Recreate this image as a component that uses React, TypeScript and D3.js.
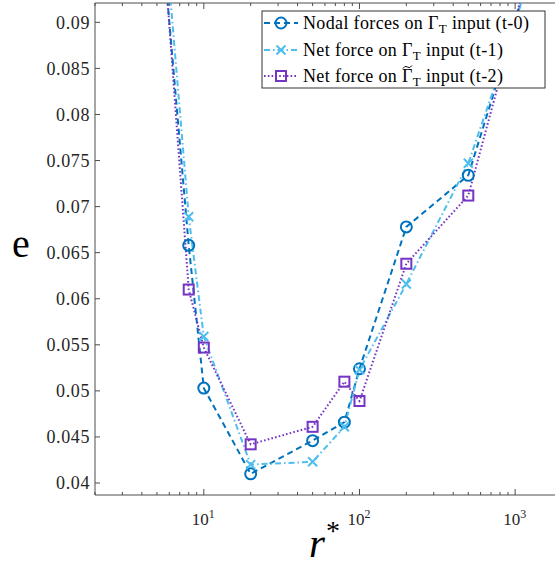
import React, { useLayoutEffect, useRef, useState } from "react";
import * as d3 from "d3";

const rValues = [5, 8, 10, 20, 50, 80, 100, 200, 500, 1000, 2000];
const nodalForces = [0.1055, 0.0658, 0.0503, 0.041, 0.0446, 0.0466, 0.0524, 0.0678, 0.0734, 0.0898, 0.111];
const netForce = [0.11, 0.0689, 0.0559, 0.042, 0.0423, 0.0461, 0.0523, 0.0616, 0.0747, 0.0895, 0.11];
const netForceTilde = [0.108, 0.061, 0.0547, 0.0442, 0.0461, 0.051, 0.0489, 0.0638, 0.0712, 0.09, 0.112];

const yTicks = [0.04, 0.045, 0.05, 0.055, 0.06, 0.065, 0.07, 0.075, 0.08, 0.085, 0.09];
const yTickLabels = ["0.04", "0.045", "0.05", "0.055", "0.06", "0.065", "0.07", "0.075", "0.08", "0.085", "0.09"];
const xMajorTicks = [10, 100, 1000];
const xMajorExp = ["1", "2", "3"];

const W = 555;
const H = 567;
const left = 95;
const top = 3;
const bottom = 495;
const rightPx = 562;

const FONT = '"Liberation Serif", "Times New Roman", Times, serif';
const AX = "#4d4d4d";
const TXT = "#262626";

const BLUE = "#0072BD";
const CYAN = "#4DBEEE";
const PURPLE = "#7434C4";

export default function App() {
  const x = d3.scaleLog().domain([2, 2000]).range([left, rightPx]);
  const y = d3.scaleLinear().domain([0.0387, 0.0921]).range([bottom, top]);
  const tildeRef = useRef<SVGTextElement | null>(null);
  const [tildeX, setTildeX] = useState<number>(401);

  useLayoutEffect(() => {
    const el = tildeRef.current;
    if (el) {
      try {
        const idx = "Net force on ".length;
        const ext = el.getExtentOfChar(idx);
        if (ext && ext.width > 0) setTildeX(ext.x + ext.width / 2);
      } catch (e) {
        /* ignore */
      }
    }
  }, []);

  const minorX: number[] = [];
  for (const dec of [1, 10, 100, 1000]) {
    for (let k = 2; k <= 9; k++) {
      const v = dec * k;
      if (v >= 2 && v <= 2000) minorX.push(v);
    }
  }

  const line = d3
    .line<number>()
    .x((_, i) => x(rValues[i]))
    .y((d) => y(d));

  const series = [
    { name: "nodal", data: nodalForces, color: BLUE, dash: "6,4", marker: "circle" },
    { name: "net", data: netForce, color: CYAN, dash: "6,3,1.5,3", marker: "x" },
    { name: "tilde", data: netForceTilde, color: PURPLE, dash: "1.6,2.2", marker: "square" },
  ];

  const marker = (type: string, cx: number, cy: number, color: string, key: string) => {
    if (type === "circle")
      return <circle key={key} cx={cx} cy={cy} r={5.5} fill="none" stroke={color} strokeWidth={2} />;
    if (type === "x")
      return (
        <path
          key={key}
          d={`M${cx - 4.5},${cy - 4.5}L${cx + 4.5},${cy + 4.5}M${cx - 4.5},${cy + 4.5}L${cx + 4.5},${cy - 4.5}`}
          stroke={color}
          strokeWidth={2}
          fill="none"
        />
      );
    return <rect key={key} x={cx - 5} y={cy - 5} width={10} height={10} fill="none" stroke={color} strokeWidth={2} />;
  };

  const legendRows = [
    { s: series[0], pre: "Nodal forces on ", tilde: false, post: " input (t-0)" },
    { s: series[1], pre: "Net force on ", tilde: false, post: " input (t-1)" },
    { s: series[2], pre: "Net force on ", tilde: true, post: " input (t-2)" },
  ];
  const lgX = 262;
  const lgY = 11;
  const lgW = 283;
  const lgH = 77;
  const rowY = [23, 50, 76];

  const fontStyle = { fontFamily: FONT };

  return (
    <svg width={W} height={H} style={{ position: "absolute", left: 0, top: 0, background: "#fff" }}>
      <defs>
        <clipPath id="plotclip">
          <rect x={left} y={top} width={rightPx - left} height={bottom - top} />
        </clipPath>
      </defs>
      <rect x={0} y={0} width={W} height={H} fill="#fff" />

      {/* axes box */}
      <line x1={left} x2={W} y1={top} y2={top} stroke={AX} strokeWidth={1} />
      <line x1={left} x2={W} y1={bottom} y2={bottom} stroke={AX} strokeWidth={1} />
      <line x1={left} x2={left} y1={top} y2={bottom} stroke={AX} strokeWidth={1} />

      {/* y ticks */}
      {yTicks.map((t, i) => (
        <g key={"yt" + i}>
          <line x1={left} x2={left + 5} y1={y(t)} y2={y(t)} stroke={AX} />
          <text
            x={left - 5}
            y={y(t)}
            dy="0.35em"
            textAnchor="end"
            style={fontStyle}
            fontSize={18}
            letterSpacing={0.6}
            fill={TXT}
          >
            {yTickLabels[i]}
          </text>
        </g>
      ))}

      {/* x minor ticks */}
      {minorX.map((v, i) => (
        <g key={"xm" + i}>
          <line x1={x(v)} x2={x(v)} y1={bottom} y2={bottom - 3} stroke={AX} />
          <line x1={x(v)} x2={x(v)} y1={top} y2={top + 3} stroke={AX} />
        </g>
      ))}
      {xMajorTicks.map((v, i) => (
        <g key={"xM" + i}>
          <line x1={x(v)} x2={x(v)} y1={bottom} y2={bottom - 6} stroke={AX} />
          <line x1={x(v)} x2={x(v)} y1={top} y2={top + 6} stroke={AX} />
          <text x={x(v) - 12} y={525} style={fontStyle} fontSize={17} fill={TXT}>
            10
            <tspan dy={-7} fontSize={12}>
              {xMajorExp[i]}
            </tspan>
          </text>
        </g>
      ))}

      {/* series */}
      <g clipPath="url(#plotclip)">
        {series.map((s) => (
          <path
            key={s.name}
            d={line(s.data) || ""}
            fill="none"
            stroke={s.color}
            strokeWidth={2}
            strokeDasharray={s.dash}
          />
        ))}
        {series.map((s) =>
          s.data.map((v, i) => marker(s.marker, x(rValues[i]), y(v), s.color, s.name + i))
        )}
      </g>

      {/* legend */}
      <rect x={lgX} y={lgY} width={lgW} height={lgH} fill="#fff" stroke="#333" strokeWidth={1} />
      {legendRows.map((r, i) => (
        <g key={"lg" + i}>
          <line
            x1={264}
            x2={298}
            y1={rowY[i]}
            y2={rowY[i]}
            stroke={r.s.color}
            strokeWidth={2}
            strokeDasharray={r.s.dash}
          />
          {marker(r.s.marker, 281, rowY[i], r.s.color, "lm" + i)}
          <text
            ref={r.tilde ? tildeRef : undefined}
            x={303}
            y={rowY[i]}
            dy="0.35em"
            style={fontStyle}
            fontSize={18}
            letterSpacing={0.35}
            fill="#000"
          >
            {r.pre}
            {"Γ"}
            <tspan dy={4} fontSize={13}>
              T
            </tspan>
            <tspan dy={-4}>{r.post}</tspan>
          </text>
          {r.tilde ? (
            <path
              d={`M${tildeX - 4.5},${rowY[i] - 7.5} Q${tildeX - 2.5},${rowY[i] - 11} ${tildeX},${rowY[i] - 9} T${tildeX + 4.5},${rowY[i] - 10.5}`}
              fill="none"
              stroke="#000"
              strokeWidth={1}
            />
          ) : null}
        </g>
      ))}

      {/* axis labels */}
      <text x={12} y={257} style={fontStyle} fontSize={40} fill="#000">
        e
      </text>
      <text x={309} y={557} style={fontStyle} fontSize={41} fontStyle="italic" fill="#000">
        r
        <tspan dx={1} dy={-17} fontSize={28} fontStyle="normal">
          *
        </tspan>
      </text>
    </svg>
  );
}
